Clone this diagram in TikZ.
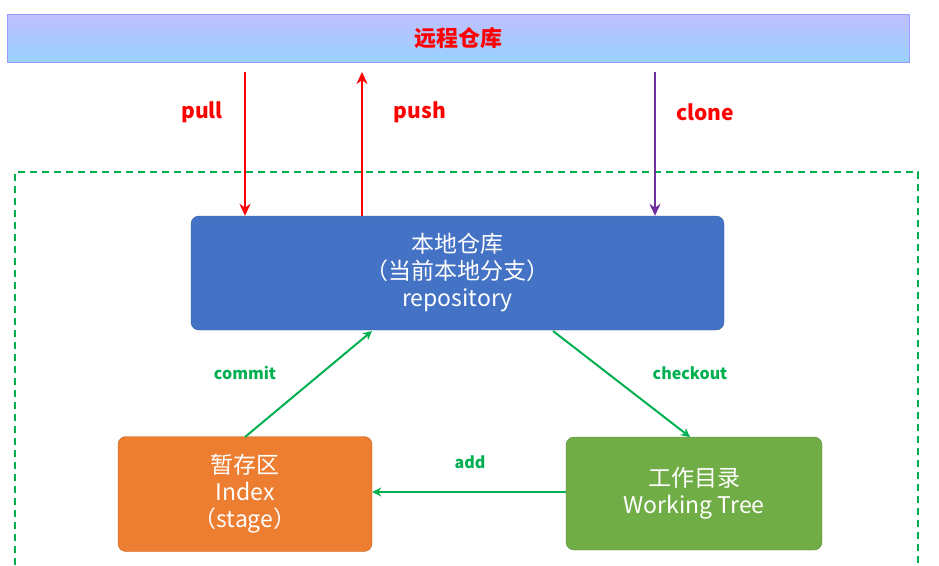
\documentclass[tikz,border=0pt]{standalone}
\usepackage{fontspec}
\setmainfont{Noto Sans CJK SC}
\usetikzlibrary{arrows.meta}
\definecolor{rd}{HTML}{FF0000}
\definecolor{gn}{HTML}{00B050}
\definecolor{pu}{HTML}{7030A0}
\definecolor{bl}{HTML}{4472C4}
\definecolor{og}{HTML}{ED7D31}
\definecolor{lg}{HTML}{70AD47}
\begin{document}
\begin{tikzpicture}[x=1pt,y=-1pt,
  box/.style={rounded corners=8pt,draw=#1!80!black,fill=#1,text=white,align=center,font=\fontsize{23}{27}\selectfont},
  arr/.style={-{Stealth[length=12pt,width=11pt]},line width=2.6pt},
  garr/.style={-{Stealth[length=9pt,width=9pt]},line width=2pt,gn},
  lab/.style={font=\bfseries\fontsize{21}{24}\selectfont,rd},
  glab/.style={font=\bfseries\itshape\fontsize{16}{19}\selectfont,gn}]
\useasboundingbox (0,0) rectangle (939,565);
\node (remote) [draw=blue!40,top color=blue!25,bottom color=blue!45!cyan!40,minimum width=902pt,minimum height=48pt,inner sep=0,font=\bfseries\fontsize{22}{26}\selectfont,text=rd] at (458,38) {远程仓库};
\draw[gn,dashed,line width=1.6pt,dash pattern=on 7pt off 5pt] (15,565) -- (15,172) -- (918,172) -- (918,565);
\node (repo) [box=bl,minimum width=533pt,minimum height=114pt] at (457.5,273) {本地仓库\\（当前本地分支）\\repository};
\node (index) [box=og,minimum width=254pt,minimum height=115pt] at (245,494) {暂存区\\Index\\（stage）};
\node (wt) [box=lg,minimum width=256pt,minimum height=113pt] at (694,493.5) {工作目录\\Working Tree};
\coordinate (p1) at (245,72); \coordinate (p2) at (362,72); \coordinate (p3) at (655,72);
\draw[arr,rd] (p1) -- (p1 |- repo.north);
\draw[arr,rd] (p2 |- repo.north) -- (p2);
\draw[arr,pu] (p3) -- (p3 |- repo.north);
\node[lab] (pull) at (202,112) {pull};
\node[lab] (push) at (420,112) {push};
\node[lab] (clone) at (705,112) {clone};
\draw[garr] (245,437) -- (372,331);
\draw[garr] (553,331) -- (690,437);
\draw[garr] (wt.west |- 0,492) -- (index.east |- 0,492);
\node[glab] (commit) at (245,373) {commit};
\node[glab] (checkout) at (690,373) {checkout};
\node[glab] (add) at (470,462) {add};
\end{tikzpicture}
\end{document}
